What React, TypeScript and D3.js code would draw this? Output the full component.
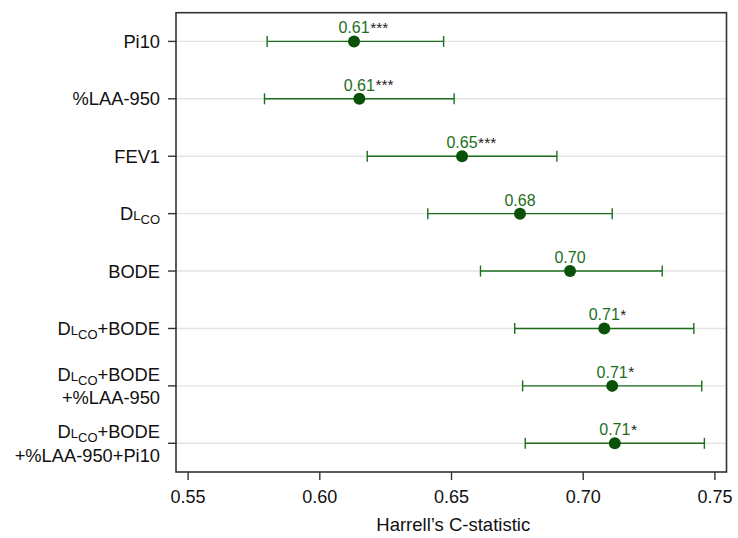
import React, { useEffect, useRef } from 'react'
import * as d3 from 'd3'

// rows top to bottom
const labels = [
  'Pi10',
  '%LAA-950',
  'FEV1',
  'D_LCO',
  'BODE',
  'D_LCO+BODE',
  'D_LCO+BODE\n+%LAA-950',
  'D_LCO+BODE\n+%LAA-950+Pi10',
]
const estimates = [0.613, 0.615, 0.654, 0.676, 0.695, 0.708, 0.711, 0.712]
const lower = [0.580, 0.579, 0.618, 0.641, 0.661, 0.674, 0.677, 0.678]
const upper = [0.647, 0.651, 0.690, 0.711, 0.730, 0.742, 0.745, 0.746]
const estLabels = ['0.61', '0.61', '0.65', '0.68', '0.70', '0.71', '0.71', '0.71']
const stars = ['***', '***', '***', '', '', '*', '*', '*']
const xTicks = [0.55, 0.6, 0.65, 0.7, 0.75]

const W = 738, H = 538
const margin = { top: 12.7, right: 11.5, bottom: 66, left: 176 }
const font = 'Helvetica, "Liberation Sans", Arial, sans-serif'
const green = '#1c6e1c'
const dotGreen = '#0a520a'

const App = () => {
  const ref = useRef<SVGSVGElement>(null)

  useEffect(() => {
    const svg = d3.select(ref.current)
    svg.selectAll('*').remove()

    const x = d3.scaleLinear()
      .domain([0.5454, 0.7544])
      .range([margin.left, W - margin.right])
    const y = d3.scalePoint<string>()
      .domain(labels)
      .range([margin.top, H - margin.bottom])
      .padding(0.5)
    const bottom = H - margin.bottom

    // gridlines
    svg.append('g')
      .selectAll('line')
      .data(labels)
      .enter().append('line')
      .attr('x1', margin.left).attr('x2', W - margin.right)
      .attr('y1', d => y(d)!).attr('y2', d => y(d)!)
      .attr('stroke', '#e3e3e3').attr('stroke-width', 1.4)

    // y axis ticks + labels
    const yAxis = svg.append('g').attr('font-family', font).attr('font-size', 18.3).attr('fill', '#111')
    labels.forEach(lab => {
      const yy = y(lab)!
      yAxis.append('line')
        .attr('x1', margin.left - 8).attr('x2', margin.left)
        .attr('y1', yy).attr('y2', yy)
        .attr('stroke', '#333').attr('stroke-width', 1.4)
      const lines = lab.split('\n')
      lines.forEach((ln, i) => {
        const base = lines.length === 1 ? yy + 6.5 : (i === 0 ? yy - 5 : yy + 18.5)
        const t = yAxis.append('text')
          .attr('x', margin.left - 16).attr('y', base)
          .attr('text-anchor', 'end')
        if (ln.startsWith('D_LCO')) {
          t.append('tspan').text('D')
          t.append('tspan').attr('font-size', 13).text('L')
          t.append('tspan').attr('font-size', 13).attr('dy', 4).text('CO')
          t.append('tspan').attr('dy', -4).text(ln.slice(5))
        } else {
          t.text(ln)
        }
      })
    })

    // x axis
    const xAxis = svg.append('g').attr('font-family', font).attr('font-size', 18).attr('fill', '#111')
    xTicks.forEach(v => {
      xAxis.append('line')
        .attr('x1', x(v)).attr('x2', x(v))
        .attr('y1', bottom).attr('y2', bottom + 8)
        .attr('stroke', '#333').attr('stroke-width', 1.4)
      xAxis.append('text')
        .attr('x', x(v)).attr('y', bottom + 31)
        .attr('text-anchor', 'middle')
        .text(v.toFixed(2))
    })
    xAxis.append('text')
      .attr('x', (margin.left + W - margin.right) / 2 + 2)
      .attr('y', H - 7)
      .attr('text-anchor', 'middle')
      .attr('font-size', 18.5)
      .text('Harrell\u2019s C-statistic')

    // frame
    svg.append('rect')
      .attr('x', margin.left).attr('y', margin.top)
      .attr('width', W - margin.right - margin.left)
      .attr('height', bottom - margin.top)
      .attr('fill', 'none').attr('stroke', '#333').attr('stroke-width', 1.6)

    // error bars
    const g = svg.append('g')
    labels.forEach((lab, i) => {
      const yy = y(lab)!
      g.append('line')
        .attr('x1', x(lower[i])).attr('x2', x(upper[i]))
        .attr('y1', yy).attr('y2', yy)
        .attr('stroke', green).attr('stroke-width', 1.4)
      ;[lower[i], upper[i]].forEach(v => {
        g.append('line')
          .attr('x1', x(v)).attr('x2', x(v))
          .attr('y1', yy - 5.5).attr('y2', yy + 5.5)
          .attr('stroke', green).attr('stroke-width', 1.4)
      })
      g.append('circle')
        .attr('cx', x(estimates[i])).attr('cy', yy).attr('r', 6)
        .attr('fill', dotGreen)
      const num = g.append('text')
        .attr('x', x(estimates[i])).attr('y', yy - 8)
        .attr('text-anchor', 'middle')
        .attr('font-family', font).attr('font-size', 16)
        .attr('fill', green)
        .text(estLabels[i])
      if (stars[i]) {
        const w = (num.node() as SVGTextElement).getComputedTextLength()
        g.append('text')
          .attr('x', x(estimates[i]) + w / 2 + 0.5).attr('y', yy - 8.5)
          .attr('font-family', font).attr('font-size', 15.5)
          .attr('fill', '#222')
          .text(stars[i])
      }
    })
  }, [])

  return (
    <svg ref={ref} width={W} height={H}
      style={{ position: 'absolute', left: 0, top: 0, background: '#fff' }} />
  )
}

export default App
